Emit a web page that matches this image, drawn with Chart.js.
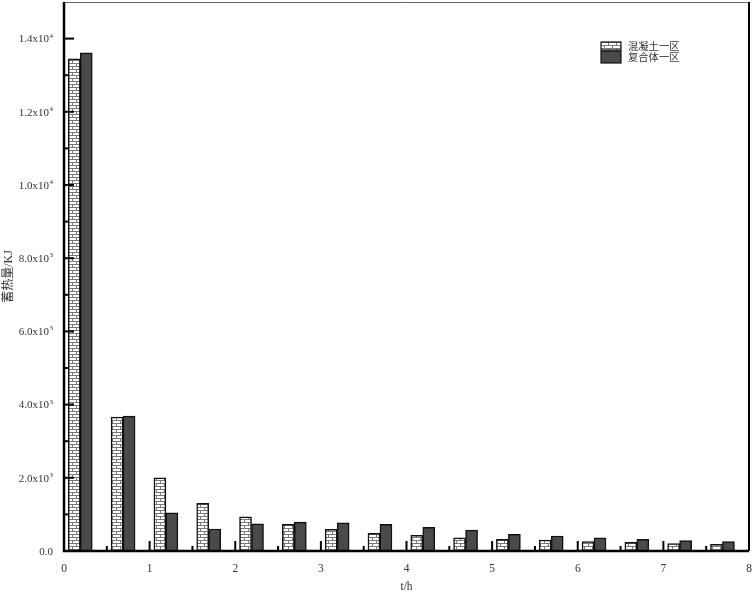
<!DOCTYPE html>
<html>
<head>
<meta charset="utf-8">
<script src="https://cdn.jsdelivr.net/npm/chart.js@4.4.0/dist/chart.umd.min.js"></script>
<style>
  html, body { margin: 0; padding: 0; background: #fff; }
  #wrap { width: 752px; height: 594px; }
</style>
</head>
<body>
<div id="wrap"><canvas id="chart" width="752" height="594"></canvas></div>
<script>
// group centres on the time axis (h)
const timePoints = [0.19, 0.69, 1.19, 1.69, 2.19, 2.69, 3.19, 3.69, 4.19, 4.69, 5.19, 5.69, 6.19, 6.69, 7.19, 7.69];
// stored heat, KJ
const concreteHeat = [13450, 3660, 2000, 1300, 935, 728, 592, 482, 427, 363, 318, 300, 254, 236, 200, 182];
const compositeHeat = [13610, 3686, 1043, 600, 744, 790, 771, 727, 645, 572, 455, 409, 363, 318, 282, 254];
const seriesNames = ['混凝土一区', '复合体一区'];

const xTickLabels = ['0', '1', '2', '3', '4', '5', '6', '7', '8'];
const yTickValues = [0, 2000, 4000, 6000, 8000, 10000, 12000, 14000];
const yTickBase = ['0.0', '2.0x10', '4.0x10', '6.0x10', '8.0x10', '1.0x10', '1.2x10', '1.4x10'];
const yTickExp = ['', '3', '3', '3', '3', '4', '4', '4'];

const serif = '"Liberation Serif", "Times New Roman", "Noto Sans CJK SC", serif';
const cjk = '"Noto Sans CJK SC", sans-serif';

// brick hatch like the original plot
function brickPattern() {
  const c = document.createElement('canvas');
  c.width = 8; c.height = 6;
  const g = c.getContext('2d');
  g.fillStyle = '#fff';
  g.fillRect(0, 0, 8, 6);
  g.fillStyle = '#7a7a7a';
  g.fillRect(0, 0, 8, 1);
  g.fillRect(0, 3, 8, 1);
  g.fillRect(0, 0, 1, 3);
  g.fillRect(4, 3, 1, 3);
  return document.getElementById('chart').getContext('2d').createPattern(c, 'repeat');
}
const brick = brickPattern();
const darkFill = '#4a4a4a';

const toPoints = vals => vals.map((v, i) => ({ x: timePoints[i], y: v }));

// frame, inward ticks, y labels with exponents, legend
const decor = {
  id: 'decor',
  afterDatasetsDraw(chart) {
    const { ctx, chartArea: a, scales: { x, y } } = chart;
    ctx.save();
    ctx.strokeStyle = '#000';
    ctx.lineWidth = 2;
    for (let v = 0; v <= 8; v += 0.5) {
      const px = x.getPixelForValue(v);
      const len = Number.isInteger(v) ? 10 : 5;
      ctx.beginPath();
      ctx.moveTo(px, a.bottom);
      ctx.lineTo(px, a.bottom - len);
      ctx.stroke();
    }
    for (let v = 0; v <= 14000; v += 1000) {
      const py = y.getPixelForValue(v);
      const len = v % 2000 === 0 ? 10 : 5;
      ctx.beginPath();
      ctx.moveTo(a.left, py);
      ctx.lineTo(a.left + len, py);
      ctx.stroke();
    }
    // frame
    ctx.lineWidth = 1;
    ctx.strokeStyle = '#666';
    ctx.beginPath();
    ctx.moveTo(a.left, a.top + 0.5);
    ctx.lineTo(a.right, a.top + 0.5);
    ctx.stroke();
    ctx.strokeStyle = '#000';
    ctx.lineWidth = 2;
    ctx.beginPath();
    ctx.moveTo(a.right, a.top);
    ctx.lineTo(a.right, a.bottom);
    ctx.stroke();
    ctx.lineWidth = 2.5;
    ctx.beginPath();
    ctx.moveTo(a.left, a.top);
    ctx.lineTo(a.left, a.bottom);
    ctx.lineTo(a.right, a.bottom);
    ctx.stroke();

    // y tick labels
    ctx.fillStyle = '#333';
    const rightEdge = 53;
    yTickValues.forEach((v, i) => {
      const py = y.getPixelForValue(v);
      let xr = rightEdge;
      if (yTickExp[i]) {
        ctx.font = '7px ' + serif;
        ctx.textAlign = 'right';
        ctx.textBaseline = 'alphabetic';
        ctx.fillText(yTickExp[i], xr, py - 1);
        xr -= ctx.measureText(yTickExp[i]).width + 0.5;
      }
      ctx.font = '11px ' + serif;
      ctx.textAlign = 'right';
      ctx.textBaseline = 'middle';
      ctx.fillText(yTickBase[i], xr, py + 1);
    });

    // legend
    const lx = 601, bw = 20;
    const boxes = [
      { y0: 42, h: 8, fill: brick, label: chart.data.datasets[0].label },
      { y0: 51, h: 12, fill: darkFill, label: chart.data.datasets[1].label }
    ];
    boxes.forEach(b => {
      ctx.fillStyle = b.fill;
      ctx.fillRect(lx, b.y0, bw, b.h);
      ctx.strokeStyle = '#111';
      ctx.lineWidth = 1.2;
      ctx.strokeRect(lx, b.y0, bw, b.h);
      ctx.fillStyle = '#333';
      ctx.font = '10.3px ' + cjk;
      ctx.textAlign = 'left';
      ctx.textBaseline = 'middle';
      ctx.fillText(b.label, 628, b.y0 + b.h / 2);
    });
    ctx.restore();
  }
};

new Chart(document.getElementById('chart'), {
  type: 'bar',
  data: {
    datasets: [
      {
        label: seriesNames[0],
        data: toPoints(concreteHeat),
        backgroundColor: brick,
        borderColor: '#111',
        borderWidth: 1.5
      },
      {
        label: seriesNames[1],
        data: toPoints(compositeHeat),
        backgroundColor: darkFill,
        borderColor: '#111',
        borderWidth: 1.5
      }
    ]
  },
  options: {
    responsive: false,
    devicePixelRatio: 1,
    animation: false,
    barThickness: 12,
    layout: { padding: { top: 2, right: 3, left: 0, bottom: 0 } },
    plugins: {
      legend: { display: false },
      tooltip: { enabled: false }
    },
    scales: {
      x: {
        type: 'linear',
        min: 0,
        max: 8,
        offset: false,
        grid: { display: false, offset: false },
        border: { display: false },
        ticks: {
          stepSize: 1,
          padding: 3,
          maxRotation: 0,
          color: '#333',
          font: { family: serif, size: 11.5 },
          callback: (v, i) => xTickLabels[i]
        },
        title: {
          display: true,
          text: 't/h',
          color: '#333',
          font: { family: serif, size: 11.5 },
          padding: { top: -2, bottom: 0 }
        },
        afterFit(scale) {
          scale.height = 43;
          scale.paddingLeft = 0;
          scale.paddingRight = 0;
        }
      },
      y: {
        min: 0,
        max: 15000,
        grid: { display: false },
        border: { display: false },
        ticks: { display: false },
        title: {
          display: true,
          text: '蓄热量/KJ',
          color: '#333',
          font: { family: serif, size: 12 },
          padding: { top: 2, bottom: 0 }
        },
        afterFit(scale) {
          scale.width = 64;
          scale.paddingTop = 0;
          scale.paddingBottom = 0;
        }
      }
    }
  },
  plugins: [decor]
});
</script>
</body>
</html>
